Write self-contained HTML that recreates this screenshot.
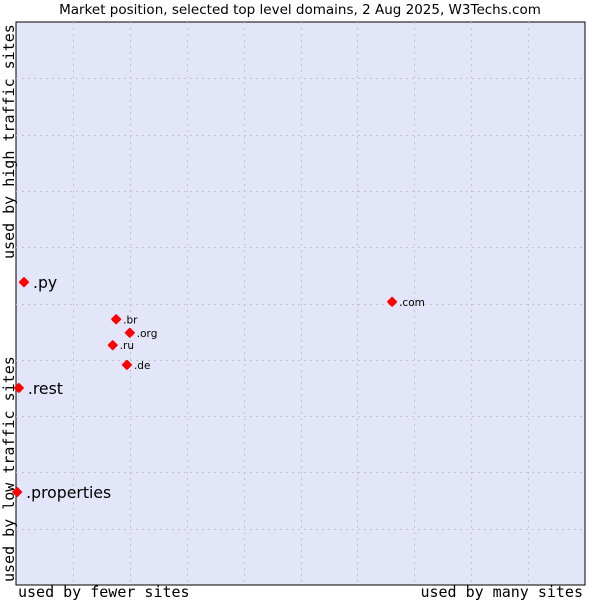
<!DOCTYPE html>
<html><head><meta charset="utf-8"><style>
body{margin:0;background:#fff;}
svg{display:block;}
</style></head><body>
<svg width="600" height="600" viewBox="0 0 600 600">
<text x="300" y="14" text-anchor="middle" font-family="DejaVu Sans, sans-serif" font-size="13.5" fill="#000">Market position, selected top level domains, 2 Aug 2025, W3Techs.com</text>
<rect x="16" y="22" width="569" height="563" fill="#e3e5f8" stroke="#000" stroke-width="1"/>
<g id="grid"></g>
<text x="18" y="597" font-family="DejaVu Sans Mono, monospace" font-size="15">used by fewer sites</text>
<text x="583" y="597" text-anchor="end" font-family="DejaVu Sans Mono, monospace" font-size="15">used by many sites</text>
<text transform="translate(14,259) rotate(-90)" font-family="DejaVu Sans Mono, monospace" font-size="15">used by high traffic sites</text>
<text transform="translate(14,582) rotate(-90)" font-family="DejaVu Sans Mono, monospace" font-size="15">used by low traffic sites</text>
<g id="points"></g>
</svg>
<script>
const labels=[".py",".com",".br",".org",".ru",".de",".rest",".properties"];
const xValues=[1.4,66.1,17.6,20.0,17.0,19.5,0.5,0.2];
const yValues=[53.8,50.3,47.2,44.8,42.6,39.1,35.0,16.5];
const bigLabel=[true,false,false,false,false,false,true,true];
const L=16,T=22,W=569,H=563;
const xs=v=>L+v/100*W, ys=v=>T+H-v/100*H;
const NS="http://www.w3.org/2000/svg";
const grid=document.getElementById('grid');
for(let i=1;i<10;i++){
  const gx=document.createElementNS(NS,'line');
  
  
  const x=Math.round(xs(i*10))+0.5;
  gx.setAttribute('x1',x);gx.setAttribute('x2',x);gx.setAttribute('y1',T);gx.setAttribute('y2',T+H);
  gx.setAttribute('stroke','#c4c4c8');gx.setAttribute('stroke-dasharray','2,4');
  grid.appendChild(gx);
  const gy=document.createElementNS(NS,'line');
  
  
  const y=Math.round(ys(i*10))+0.5;
  gy.setAttribute('y1',y);gy.setAttribute('y2',y);gy.setAttribute('x1',L);gy.setAttribute('x2',L+W);
  gy.setAttribute('stroke','#c4c4c8');gy.setAttribute('stroke-dasharray','2,4');
  grid.appendChild(gy);
}
const pts=document.getElementById('points');
labels.forEach((lab,i)=>{
  const x=xs(xValues[i]),y=ys(yValues[i]);
  const p=document.createElementNS(NS,'polygon');
  
  
  p.setAttribute('points',`${x},${y-4} ${x+4},${y} ${x},${y+4} ${x-4},${y}`);
  p.setAttribute('fill','#f00');
  p.setAttribute('stroke','#f00');
  p.setAttribute('stroke-width','2');
  p.setAttribute('stroke-linejoin','round');
  pts.appendChild(p);
  const t=document.createElementNS(NS,'text');
  
  
  t.setAttribute('x',x+(bigLabel[i]?9:7));
  t.setAttribute('y',y+(bigLabel[i]?6:4));
  t.setAttribute('font-family','DejaVu Sans, sans-serif');
  t.setAttribute('font-size',bigLabel[i]?15.7:10.5);
  t.textContent=lab;
  pts.appendChild(t);
});
</script>
</body></html>
